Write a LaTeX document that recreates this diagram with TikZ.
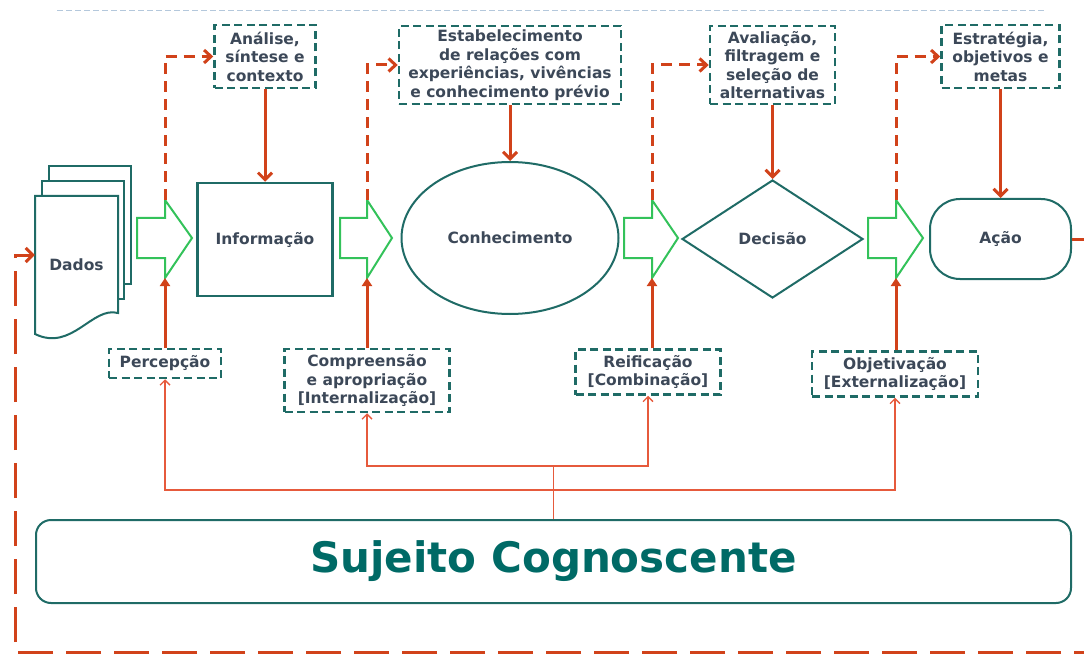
\documentclass[tikz,border=0pt]{standalone}
\usepackage{fontspec}
\setmainfont{DejaVu Sans}
\usepackage{tikz}
\usetikzlibrary{shapes.geometric,arrows.meta}

\definecolor{verdeesc}{HTML}{1F6B66}
\definecolor{cinza}{HTML}{3C4858}
\definecolor{titulo}{HTML}{006A66}
\definecolor{verde}{HTML}{33C25A}
\definecolor{verm}{HTML}{D1421A}
\definecolor{vermclaro}{HTML}{E65A3C}
\definecolor{azulclaro}{HTML}{B4C8DC}

\tikzset{
  rotulo/.style={text=cinza, font=\fontsize{15.5}{18.5}\selectfont\bfseries},
  caixa/.style={rotulo, draw=verdeesc, line width=2.5pt, dash pattern=on 8pt off 4.5pt, align=center, inner sep=2pt},
  forma/.style={rotulo, draw=verdeesc, line width=2pt, fill=white},
  bloco/.style={draw=verde, line width=2pt},
  seta/.style={draw=verm, line width=3pt, -{Straight Barb[length=7pt,width=14pt]}},
  subida/.style={draw=verm, line width=3pt, -{Triangle[length=8pt,width=10pt]}},
  tracejado/.style={draw=verm, line width=3pt, dash pattern=on 11pt off 7pt, -{Straight Barb[length=7pt,width=13pt]}},
  fina/.style={draw=vermclaro, line width=1.3pt},
  laco/.style={draw=verm, line width=3pt, dash pattern=on 35pt off 13pt, -{Straight Barb[length=7pt,width=14pt]}}
}

\begin{document}
\begin{tikzpicture}[x=1pt,y=-1pt]
\useasboundingbox (0,0) rectangle (1084,655);
\clip (0,0) rectangle (1084,655);

\draw[azulclaro, line width=1pt, dash pattern=on 6pt off 3pt] (57,11) -- (1045,11);

% pilha de documentos
\draw[forma] (49,166) rectangle (131,284);
\draw[forma] (42,181) rectangle (124,299);
\draw[forma] (35,196) -- (118,196) -- (118,313) .. controls (92,306) and (72,352) .. (35,334) -- cycle;
\node[rotulo, minimum width=83pt, minimum height=139pt] (dados) at (76.5,265) {Dados};

% setas verdes
\foreach \a/\b/\c/\n in {137/165/192/1, 340/367/392/2, 624/652/678/3, 868/896/923/4}
{
  \draw[bloco] (\a,218) -- (\b,218) -- (\b,200) -- (\c,238) -- (\b,278) -- (\b,258) -- (\a,258) -- cycle;
  \coordinate (topo\n) at (\b,200);
  \coordinate (base\n) at (\b,278);
}

\node[forma, rectangle, line width=2.5pt, minimum width=135pt, minimum height=113pt] (informacao) at (265,239.5) {Informação};
\node[forma, ellipse, minimum width=217pt, minimum height=152pt] (conhecimento) at (510,238) {Conhecimento};
\node[forma, diamond, minimum width=181pt, minimum height=118pt, inner sep=0pt] (decisao) at (772.5,239) {Decisão};
\node[forma, rectangle, rounded corners=30pt, minimum width=141pt, minimum height=80pt] (acao) at (1000.5,239) {Ação};

% caixas de cima
\node[caixa, minimum width=101pt, minimum height=63pt] (analise) at (265,56.5) {Análise,\\síntese e\\contexto};
\node[caixa, minimum width=222pt, minimum height=78pt] (relacoes) at (510,65) {Estabelecimento\\de relações com\\experiências, vivências\\e conhecimento prévio};
\node[caixa, minimum width=125pt, minimum height=78pt] (avaliacao) at (772.5,65) {Avaliação,\\filtragem e\\seleção de\\alternativas};
\node[caixa, minimum width=118pt, minimum height=63pt] (estrategia) at (1000.5,56.5) {Estratégia,\\objetivos e\\metas};

% caixas de baixo
\node[caixa, minimum width=112pt, minimum height=29pt] (percepcao) at (165,363.5) {Percepção};
\node[caixa, minimum width=165pt, minimum height=63pt] (compreensao) at (367,380.5) {Compreensão\\e apropriação\\{[Internalização]}};
\node[caixa, minimum width=145pt, minimum height=45pt] (reificacao) at (648,372) {Reificação\\{[Combinação]}};
\node[caixa, minimum width=166pt, minimum height=45pt] (objetivacao) at (895,374) {Objetivação\\{[Externalização]}};

\node[draw=verdeesc, line width=2pt, rounded corners=15pt, minimum width=1035pt, minimum height=83pt,
      text=titulo, font=\fontsize{42}{48}\selectfont\bfseries] (sujeito) at (553.5,561.5) {Sujeito Cognoscente};

% setas de cima para baixo
\draw[seta] (analise) -- (informacao);
\draw[seta] (relacoes) -- (conhecimento);
\draw[seta] (avaliacao) -- (decisao);
\draw[seta] (estrategia) -- (acao);

% tracejadas
\draw[tracejado] (topo1) |- (analise.west);
\draw[tracejado] (topo2) |- (relacoes.west);
\draw[tracejado] (topo3) |- (avaliacao.west);
\draw[tracejado] (topo4) |- (estrategia.west);

\draw[subida] (base1 |- percepcao.north) -- (base1);
\draw[subida] (base2 |- compreensao.north) -- (base2);
\draw[subida] (base3 |- reificacao.north) -- (base3);
\draw[subida] (base4 |- objetivacao.north) -- (base4);

% ligacoes do sujeito
\coordinate (meio1) at (553.5,466);
\coordinate (meio2) at (553.5,490);
\draw[fina] (sujeito.north) -- (meio1);
\draw[fina, -{Straight Barb[length=5pt,width=10pt]}] (meio1) -| (compreensao.south);
\draw[fina, -{Straight Barb[length=5pt,width=10pt]}] (meio1) -| (reificacao.south);
\draw[fina, -{Straight Barb[length=5pt,width=10pt]}] (meio2) -| (percepcao.south);
\draw[fina, -{Straight Barb[length=5pt,width=10pt]}] (meio2) -| (objetivacao.south);

% volta para os dados
\draw[laco] (acao.east) -- (1100,239) -- (1100,652) -- (15,652) -- (15,255) -- ([yshift=10pt]dados.west);
\end{tikzpicture}
\end{document}
